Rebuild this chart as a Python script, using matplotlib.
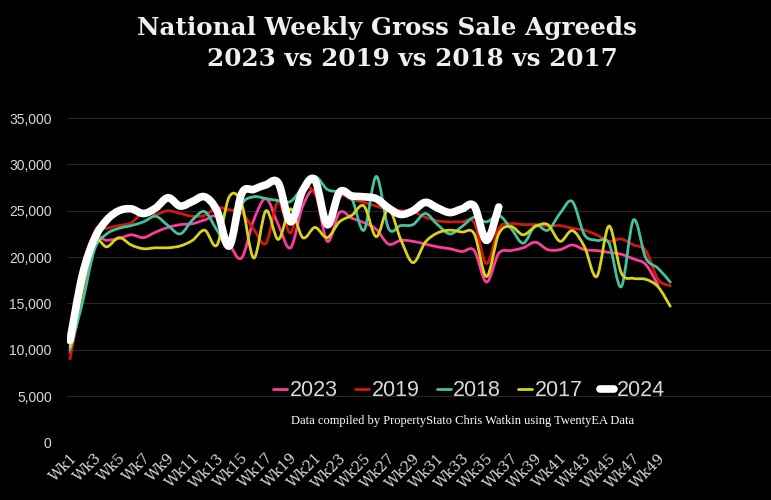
import matplotlib
matplotlib.use('Agg')
import matplotlib.pyplot as plt
from matplotlib.path import Path
from matplotlib.patches import PathPatch
from matplotlib.lines import Line2D

weeks = list(range(1, 51))
tick_weeks = list(range(1, 50, 2))
tick_labels = [f'Wk{w}' for w in tick_weeks]

# weekly gross sale agreed counts
y2023 = [9700, 15300, 21700, 21800, 22000, 22400, 22100, 22700, 23200, 23500,
         23600, 24000, 24300, 21500, 19900, 24000, 26300, 23500, 21000, 25500,
         27000, 21700, 24800, 24200, 23700, 23000, 21400, 21800, 21700, 21400,
         21100, 20900, 20600, 20700, 17300, 20400, 20700, 21000, 21600, 20800,
         20800, 21300, 20800, 20700, 20500, 20300, 19800, 19200, 17000]
y2019 = [9000, 16000, 22700, 23100, 23400, 23700, 24800, 24600, 25000, 24700,
         24400, 24500, 25300, 25100, 24800, 23000, 21500, 26000, 22600, 27300,
         26800, 23200, 26500, 26200, 25900, 25500, 25100, 25000, 24900, 24300,
         23900, 23800, 23800, 23700, 19300, 23100, 23600, 23500, 23500, 23350,
         23400, 23100, 22900, 22400, 21700, 21950, 21300, 20700, 17600, 16900]
y2018 = [10000, 15000, 20800, 22500, 23100, 23400, 23800, 24400, 23400, 22500,
         24000, 24900, 22900, 21100, 25600, 26500, 26300, 26100, 26000, 27500,
         28700, 27300, 27000, 26300, 22900, 28700, 23100, 23400, 23500, 24700,
         23500, 22500, 23300, 24300, 23800, 24500, 23100, 21500, 23400, 22900,
         24700, 26000, 22400, 21800, 21500, 16800, 24000, 19900, 18800, 17300]
y2017 = [10300, 16500, 21700, 21100, 22100, 21300, 20900, 21000, 21000, 21200,
         21800, 22900, 21300, 26500, 25800, 19900, 25000, 21900, 25200, 22100,
         23200, 22100, 23800, 24500, 25500, 22200, 25200, 21900, 19400, 21600,
         22600, 22900, 22700, 22500, 17900, 22500, 23300, 22400, 23300, 23500,
         21700, 22850, 21100, 17900, 23350, 18300, 17700, 17600, 16800, 14700]
y2024 = [11000, 18000, 22000, 24000, 25000, 25200, 24700, 25300, 26400, 25500,
         26000, 26500, 25000, 21200, 26800, 27300, 27800, 28000, 23800, 27200,
         28300, 23500, 27000, 26600, 26500, 26300, 25300, 24600, 25000, 25900,
         25300, 24800, 25200, 25500, 21800, 25400]

series = [
    ('2023', y2023, '#ff3b9d', 2.0),
    ('2019', y2019, '#d0180c', 2.0),
    ('2018', y2018, '#42c29d', 2.0),
    ('2017', y2017, '#d8d21c', 2.0),
    ('2024', y2024, '#ffffff', 5.5),
]


def smooth_path(x, y):
    # catmull-rom style bezier, like excel's "smoothed line"
    n = len(x)
    verts = [(x[0], y[0])]
    codes = [Path.MOVETO]
    for i in range(n - 1):
        x0, y0 = (x[i - 1], y[i - 1]) if i > 0 else (x[i], y[i])
        x3, y3 = (x[i + 2], y[i + 2]) if i + 2 < n else (x[i + 1], y[i + 1])
        c1 = (x[i] + (x[i + 1] - x0) / 6, y[i] + (y[i + 1] - y0) / 6)
        c2 = (x[i + 1] - (x3 - x[i]) / 6, y[i + 1] - (y3 - y[i]) / 6)
        verts += [c1, c2, (x[i + 1], y[i + 1])]
        codes += [Path.CURVE4] * 3
    return Path(verts, codes)


fig = plt.figure(figsize=(7.71, 5.0), dpi=100, facecolor='black')
ax = fig.add_axes([67 / 771, 1 - 442.5 / 500, 1 - 67 / 771, (442.5 - 118) / 500])
ax.set_facecolor('black')

for name, vals, color, lw in series:
    xs = weeks[:len(vals)]
    ax.add_patch(PathPatch(smooth_path(xs, vals), facecolor='none', edgecolor=color,
                           lw=lw, capstyle='round', joinstyle='round', zorder=3))

ax.set_xlim(1 - 3 / 12.25, 1 + (771 - 70) / 12.25)
ax.set_ylim(0, 35000)
ax.set_yticks(range(0, 35001, 5000))
ax.set_yticklabels([f'{v:,}' for v in range(0, 35001, 5000)],
                   fontsize=10, color='#d9d9d9', family='Liberation Sans')
ax.set_xticks(tick_weeks)
ax.set_xticklabels(tick_labels, rotation=45, ha='right', rotation_mode='anchor',
                   fontsize=10.5, color='#d9d9d9', family='DejaVu Serif')
ax.tick_params(length=0)
ax.tick_params(axis='y', pad=11)
ax.tick_params(axis='x', pad=6)
ax.grid(axis='y', color='#262626', lw=0.8)
ax.set_axisbelow(True)
for s in ax.spines.values():
    s.set_visible(False)

fig.text(387 / 771, 1 - 35 / 500, 'National Weekly Gross Sale Agreeds', ha='center', va='baseline',
         fontsize=17.7, fontweight='bold', family='DejaVu Serif', color='#f0f0f0')
fig.text(412 / 771, 1 - 66 / 500, '2023 vs 2019 vs 2018 vs 2017', ha='center', va='baseline',
         fontsize=17.7, fontweight='bold', family='DejaVu Serif', color='#f0f0f0')

handles = [Line2D([], [], color=c, lw=(2.0 if lw < 3 else 5.5), solid_capstyle='round')
           for _, _, c, lw in series]
leg = fig.legend(handles, [s[0] for s in series], loc='center', ncol=5,
                 bbox_to_anchor=(469 / 771, 1 - 391 / 500), frameon=False,
                 handlelength=0.65, handletextpad=0.12, columnspacing=0.8,
                 prop={'family': 'Liberation Sans', 'size': 15.5})
for t in leg.get_texts():
    t.set_color('#d9d9d9')

fig.text(463 / 771, 1 - 421 / 500, 'Data compiled by PropertyStato Chris Watkin using TwentyEA Data',
         ha='center', va='center', fontsize=9, family='Liberation Serif', color='white')

fig.savefig('out.png', dpi=100, facecolor='black')
